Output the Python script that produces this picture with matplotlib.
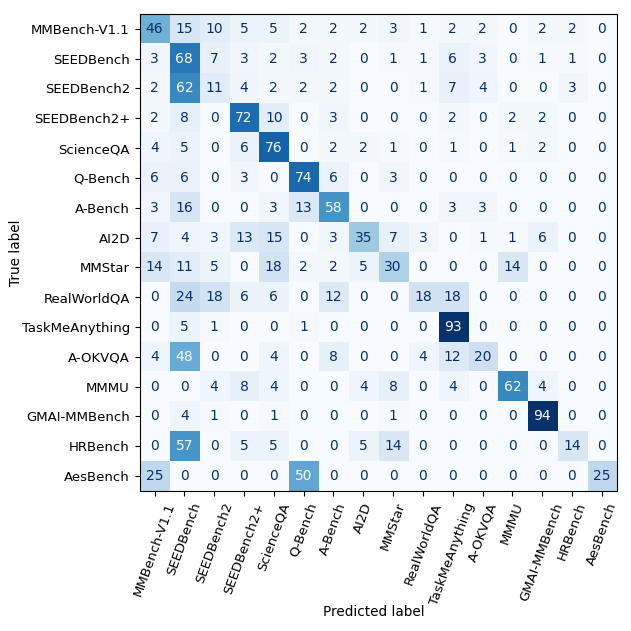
import numpy as np
import matplotlib.pyplot as plt

labels = ['MMBench-V1.1', 'SEEDBench', 'SEEDBench2', 'SEEDBench2+', 'ScienceQA',
          'Q-Bench', 'A-Bench', 'AI2D', 'MMStar', 'RealWorldQA', 'TaskMeAnything',
          'A-OKVQA', 'MMMU', 'GMAI-MMBench', 'HRBench', 'AesBench']

# rows = true label, columns = predicted label
cm = np.array([
    [46, 15, 10, 5, 5, 2, 2, 2, 3, 1, 2, 2, 0, 2, 2, 0],
    [3, 68, 7, 3, 2, 3, 2, 0, 1, 1, 6, 3, 0, 1, 1, 0],
    [2, 62, 11, 4, 2, 2, 2, 0, 0, 1, 7, 4, 0, 0, 3, 0],
    [2, 8, 0, 72, 10, 0, 3, 0, 0, 0, 2, 0, 2, 2, 0, 0],
    [4, 5, 0, 6, 76, 0, 2, 2, 1, 0, 1, 0, 1, 2, 0, 0],
    [6, 6, 0, 3, 0, 74, 6, 0, 3, 0, 0, 0, 0, 0, 0, 0],
    [3, 16, 0, 0, 3, 13, 58, 0, 0, 0, 3, 3, 0, 0, 0, 0],
    [7, 4, 3, 13, 15, 0, 3, 35, 7, 3, 0, 1, 1, 6, 0, 0],
    [14, 11, 5, 0, 18, 2, 2, 5, 30, 0, 0, 0, 14, 0, 0, 0],
    [0, 24, 18, 6, 6, 0, 12, 0, 0, 18, 18, 0, 0, 0, 0, 0],
    [0, 5, 1, 0, 0, 1, 0, 0, 0, 0, 93, 0, 0, 0, 0, 0],
    [4, 48, 0, 0, 4, 0, 8, 0, 0, 4, 12, 20, 0, 0, 0, 0],
    [0, 0, 4, 8, 4, 0, 0, 4, 8, 0, 4, 0, 62, 4, 0, 0],
    [0, 4, 1, 0, 1, 0, 0, 0, 1, 0, 0, 0, 0, 94, 0, 0],
    [0, 57, 0, 5, 5, 0, 0, 5, 14, 0, 0, 0, 0, 0, 14, 0],
    [25, 0, 0, 0, 0, 50, 0, 0, 0, 0, 0, 0, 0, 0, 0, 25],
])

fs = 9.5
fig = plt.figure(figsize=(6.31, 6.31), dpi=100)
ax = fig.add_axes([0.2203, 0.2219, 0.758, 0.756])

cmap = plt.cm.Blues
im = ax.imshow(cm, cmap=cmap, interpolation='nearest')

# same text colour rule as sklearn's ConfusionMatrixDisplay
thresh = (cm.max() + cm.min()) / 2.0
for i in range(cm.shape[0]):
    for j in range(cm.shape[1]):
        color = cmap(0) if cm[i, j] >= thresh else cmap(1.0)
        ax.text(j, i, str(cm[i, j]), ha='center', va='center', color=color, fontsize=fs + 0.5)

ax.set_xticks(np.arange(len(labels)))
ax.set_yticks(np.arange(len(labels)))
ax.set_xticklabels(labels, rotation=70, fontsize=fs)
ax.set_yticklabels(labels, fontsize=fs)
ax.set_xlabel('Predicted label', fontsize=fs + 0.3)
ax.set_ylabel('True label', fontsize=fs + 0.3)
ax.yaxis.set_label_coords(-0.245, 0.5)
ax.xaxis.set_label_coords(0.49, -0.24)

fig.savefig('out.png', dpi=100)
